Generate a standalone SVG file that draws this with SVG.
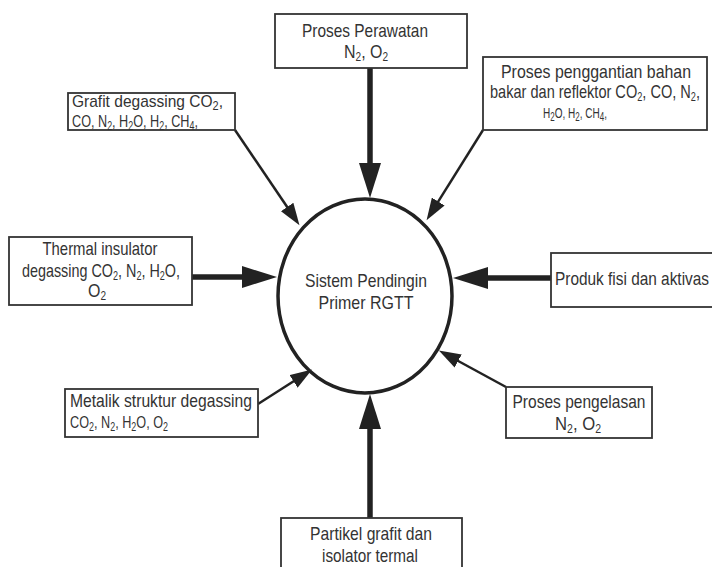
<svg xmlns="http://www.w3.org/2000/svg" width="712" height="567" viewBox="0 0 712 567">
<style>
  .box { fill: #ffffff; stroke: #333333; stroke-width: 1.8; }
  .t { font-family: "Liberation Sans", Arial, sans-serif; font-size: 19px; fill: #333333; }
  .f { font-size: 17px; }
  .g { font-size: 15px; }
  .c { text-anchor: middle; }
  .s { font-size: 12px; }
  .thick { stroke: #222222; stroke-width: 5.5; fill: none; marker-end: url(#headBig); }
  .thin { stroke: #222222; stroke-width: 2.5; fill: none; marker-end: url(#headSmall); }
</style>
<defs>
  <marker id="headBig" markerUnits="userSpaceOnUse" markerWidth="36" markerHeight="22" refX="1" refY="11" orient="auto">
    <path d="M0,0 L35,11 L0,22 Z" fill="#222222"/>
  </marker>
  <marker id="headSmall" markerUnits="userSpaceOnUse" markerWidth="23" markerHeight="15" refX="1" refY="7.5" orient="auto">
    <path d="M0,0 L22,7.5 L0,15 Z" fill="#222222"/>
  </marker>
</defs>
<rect width="712" height="567" fill="#ffffff"/>

<g id="connectors">
  <path class="thick" d="M370,68 L370,164"/>
  <path class="thick" d="M192,277 L243,277"/>
  <path class="thick" d="M551,278 L487,278"/>
  <path class="thick" d="M370,518 L370,428"/>
  <path class="thin" d="M235,130 L287.7,207.8"/>
  <path class="thin" d="M483,130 L437.7,202.4"/>
  <path class="thin" d="M258,404 L294.4,380.8"/>
  <path class="thin" d="M506,387 L457.3,360.5"/>
</g>

<g id="center">
  <ellipse cx="365" cy="296" rx="87" ry="97" fill="none" stroke="#222222" stroke-width="3.5"/>
  <text class="t c" x="366" y="287" textLength="122" lengthAdjust="spacingAndGlyphs">Sistem Pendingin</text>
  <text class="t c" x="366" y="309" textLength="95" lengthAdjust="spacingAndGlyphs">Primer RGTT</text>
</g>

<g id="perawatan">
  <rect class="box" x="275" y="14" width="192" height="54"/>
  <text class="t c" x="365" y="37" textLength="126" lengthAdjust="spacingAndGlyphs">Proses Perawatan</text>
  <text class="t c" x="366" y="58" textLength="44" lengthAdjust="spacingAndGlyphs">N<tspan class="s" dy="3">2</tspan><tspan dy="-3">, O</tspan><tspan class="s" dy="3">2</tspan></text>
</g>

<g id="grafit">
  <rect class="box" x="68" y="93" width="167" height="37"/>
  <text class="t f" x="72" y="107" textLength="151" lengthAdjust="spacingAndGlyphs">Grafit degassing  CO<tspan class="s" dy="3">2</tspan><tspan dy="-3">,</tspan></text>
  <text class="t f" x="72" y="127" textLength="126" lengthAdjust="spacingAndGlyphs">CO, N<tspan class="s" dy="3">2</tspan><tspan dy="-3">, H</tspan><tspan class="s" dy="3">2</tspan><tspan dy="-3">O, H</tspan><tspan class="s" dy="3">2</tspan><tspan dy="-3">, CH</tspan><tspan class="s" dy="3">4</tspan><tspan dy="-3">,</tspan></text>
</g>

<g id="penggantian">
  <rect class="box" x="483" y="57" width="224" height="73"/>
  <text class="t c" x="596" y="78" textLength="190" lengthAdjust="spacingAndGlyphs">Proses penggantian bahan</text>
  <text class="t c" x="595" y="98" textLength="210" lengthAdjust="spacingAndGlyphs">bakar dan reflektor CO<tspan class="s" dy="3">2</tspan><tspan dy="-3">, CO, N</tspan><tspan class="s" dy="3">2</tspan><tspan dy="-3">,</tspan></text>
  <text class="t g c" x="575" y="118" textLength="64" lengthAdjust="spacingAndGlyphs">H<tspan class="s" dy="3">2</tspan><tspan dy="-3">O, H</tspan><tspan class="s" dy="3">2</tspan><tspan dy="-3">, CH</tspan><tspan class="s" dy="3">4</tspan><tspan dy="-3">,</tspan></text>
</g>

<g id="thermal">
  <rect class="box" x="9" y="237" width="183" height="68"/>
  <text class="t c" x="100" y="255" textLength="115" lengthAdjust="spacingAndGlyphs">Thermal insulator</text>
  <text class="t c" x="101" y="277" textLength="158" lengthAdjust="spacingAndGlyphs">degassing CO<tspan class="s" dy="3">2</tspan><tspan dy="-3">, N</tspan><tspan class="s" dy="3">2</tspan><tspan dy="-3">, H</tspan><tspan class="s" dy="3">2</tspan><tspan dy="-3">O,</tspan></text>
  <text class="t c" x="97" y="297" textLength="18" lengthAdjust="spacingAndGlyphs">O<tspan class="s" dy="3">2</tspan></text>
</g>

<g id="produk">
  <rect class="box" x="551" y="253" width="175" height="54"/>
  <text class="t" x="555" y="285" textLength="154" lengthAdjust="spacingAndGlyphs">Produk fisi dan aktivas</text>
</g>

<g id="metalik">
  <rect class="box" x="65" y="389" width="193" height="48"/>
  <text class="t" x="70" y="407" textLength="182" lengthAdjust="spacingAndGlyphs">Metalik struktur degassing</text>
  <text class="t f" x="70" y="428" textLength="98" lengthAdjust="spacingAndGlyphs">CO<tspan class="s" dy="3">2</tspan><tspan dy="-3">, N</tspan><tspan class="s" dy="3">2</tspan><tspan dy="-3">, H</tspan><tspan class="s" dy="3">2</tspan><tspan dy="-3">O,  O</tspan><tspan class="s" dy="3">2</tspan></text>
</g>

<g id="pengelasan">
  <rect class="box" x="506" y="387" width="146" height="51"/>
  <text class="t c" x="579" y="408" textLength="133" lengthAdjust="spacingAndGlyphs">Proses pengelasan</text>
  <text class="t c" x="578" y="430" textLength="46" lengthAdjust="spacingAndGlyphs">N<tspan class="s" dy="3">2</tspan><tspan dy="-3">, O</tspan><tspan class="s" dy="3">2</tspan></text>
</g>

<g id="partikel">
  <rect class="box" x="281" y="518" width="181" height="60"/>
  <text class="t c" x="371" y="540" textLength="122" lengthAdjust="spacingAndGlyphs">Partikel grafit dan</text>
  <text class="t c" x="370" y="562" textLength="96" lengthAdjust="spacingAndGlyphs">isolator termal</text>
</g>
</svg>
